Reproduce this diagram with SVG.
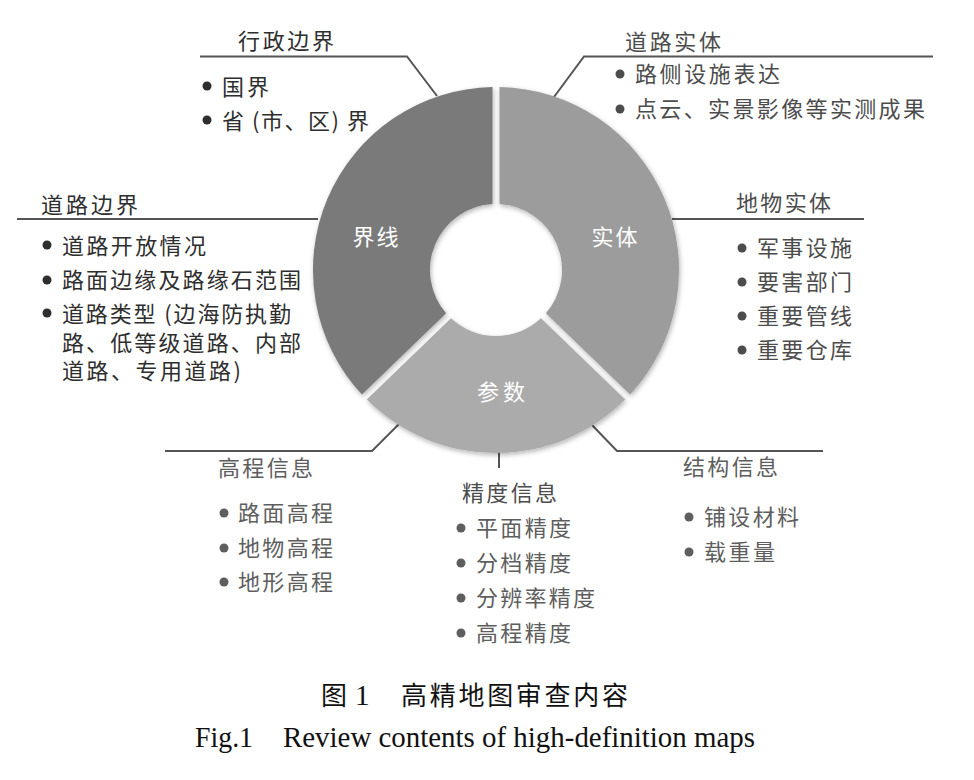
<svg xmlns="http://www.w3.org/2000/svg" width="974" height="780" viewBox="0 0 974 780">
<style>
  text { font-family: "Noto Sans CJK SC", "Liberation Sans", sans-serif; font-size: 22px; }
  .dark { fill: #2e2e2e; }
  .mid { fill: #4c4c4c; }
  .light { fill: #5e5e5e; }
  .seg-label { fill: #ffffff; font-size: 22px; text-anchor: middle; }
  .cap { fill: #111111; font-family: "Liberation Serif", "Noto Sans CJK SC", serif; font-size: 29px; }
  .capcn { fill: #111111; font-family: "Noto Sans CJK SC", sans-serif; font-size: 26px; }
  .conn { fill: none; stroke: #555555; stroke-width: 2; stroke-linejoin: miter; }
</style>
<defs>
  <filter id="shadow" x="-20%" y="-20%" width="140%" height="140%">
    <feDropShadow dx="1" dy="2" stdDeviation="2.5" flood-color="#000000" flood-opacity="0.3"/>
  </filter>
</defs>
<rect x="0" y="0" width="974" height="780" fill="#ffffff"/>

<g id="connectors">
  <polyline class="conn" points="200,56.5 407,56.5 437,96"/>
  <polyline class="conn" points="933,56.5 584,56.5 554,97"/>
  <polyline class="conn" points="17,219 318,219"/>
  <polyline class="conn" points="864,219 672,219"/>
  <polyline class="conn" points="165,451 372,451 401,422"/>
  <polyline class="conn" points="499,452 499,468"/>
  <polyline class="conn" points="823,451 617,451 592,425"/>
</g>

<g id="donut">
  <g id="seg-jiexian">
    <path d="M 361.95 394.59 A 183 183 0 0 1 492.49 87.03 L 492.50 204.09 A 66 66 0 0 0 446.14 313.26 Z" fill="#7a7a7a" filter="url(#shadow)"/>
    <text class="seg-label" x="375.5" y="245" textLength="46">界线</text>
  </g>
  <g id="seg-shiti">
    <path d="M 499.51 87.03 A 183 183 0 0 1 630.05 394.59 L 545.86 313.26 A 66 66 0 0 0 499.50 204.09 Z" fill="#9c9c9c" filter="url(#shadow)"/>
    <text class="seg-label" x="614.5" y="245" textLength="46">实体</text>
  </g>
  <g id="seg-canshu">
    <path d="M 625.18 399.62 A 183 183 0 0 1 366.82 399.62 L 451.02 318.30 A 66 66 0 0 0 540.98 318.30 Z" fill="#ababab" filter="url(#shadow)"/>
    <text class="seg-label" x="501" y="400" textLength="48">参数</text>
  </g>
</g>

<g id="node-xingzheng">
  <text class="dark" x="238" y="49" textLength="96">行政边界</text>
  <circle class="dark" cx="207" cy="86" r="4.5"/>
  <text class="dark" x="222" y="95" textLength="47">国界</text>
  <circle class="dark" cx="207" cy="120" r="4.5"/>
  <text class="dark" x="222" y="129" textLength="147">省 (市、区) 界</text>
</g>

<g id="node-daolushiti">
  <text class="mid" x="625" y="50" textLength="96">道路实体</text>
  <circle class="mid" cx="620" cy="74" r="4.5"/>
  <text class="mid" x="635" y="82" textLength="145">路侧设施表达</text>
  <circle class="mid" cx="620" cy="109" r="4.5"/>
  <text class="mid" x="635" y="117" textLength="290">点云、实景影像等实测成果</text>
</g>

<g id="node-daolubianjie">
  <text class="dark" x="41" y="213" textLength="97">道路边界</text>
  <circle class="dark" cx="47" cy="245" r="4.5"/>
  <text class="dark" x="62" y="254" textLength="144">道路开放情况</text>
  <circle class="dark" cx="47" cy="280" r="4.5"/>
  <text class="dark" x="62" y="288" textLength="239">路面边缘及路缘石范围</text>
  <circle class="dark" cx="47" cy="313" r="4.5"/>
  <text class="dark" x="62" y="322" textLength="229">道路类型 (边海防执勤</text>
  <text class="dark" x="62" y="351" textLength="239">路、低等级道路、内部</text>
  <text class="dark" x="62" y="379" textLength="179">道路、专用道路)</text>
</g>

<g id="node-diwushiti">
  <text class="mid" x="736" y="211" textLength="95">地物实体</text>
  <circle class="mid" cx="742" cy="248" r="4.5"/>
  <text class="mid" x="757" y="256" textLength="95">军事设施</text>
  <circle class="mid" cx="742" cy="282" r="4.5"/>
  <text class="mid" x="757" y="290" textLength="95">要害部门</text>
  <circle class="mid" cx="742" cy="316" r="4.5"/>
  <text class="mid" x="757" y="324" textLength="95">重要管线</text>
  <circle class="mid" cx="742" cy="350" r="4.5"/>
  <text class="mid" x="757" y="358" textLength="95">重要仓库</text>
</g>

<g id="node-gaocheng">
  <text class="light" x="218" y="476" textLength="95">高程信息</text>
  <circle class="light" cx="224" cy="513" r="4.5"/>
  <text class="light" x="238" y="521" textLength="95">路面高程</text>
  <circle class="light" cx="224" cy="548" r="4.5"/>
  <text class="light" x="238" y="556" textLength="95">地物高程</text>
  <circle class="light" cx="224" cy="582" r="4.5"/>
  <text class="light" x="238" y="590" textLength="95">地形高程</text>
</g>

<g id="node-jingdu">
  <text class="mid" x="462" y="501" textLength="95">精度信息</text>
  <circle class="light" cx="461" cy="528" r="4.5"/>
  <text class="light" x="476" y="536" textLength="95">平面精度</text>
  <circle class="light" cx="461" cy="563" r="4.5"/>
  <text class="light" x="476" y="571" textLength="95">分档精度</text>
  <circle class="light" cx="461" cy="598" r="4.5"/>
  <text class="light" x="476" y="606" textLength="119">分辨率精度</text>
  <circle class="light" cx="461" cy="633" r="4.5"/>
  <text class="light" x="476" y="641" textLength="95">高程精度</text>
</g>

<g id="node-jiegou">
  <text class="light" x="683" y="475" textLength="95">结构信息</text>
  <circle class="light" cx="689" cy="517" r="4.5"/>
  <text class="light" x="704" y="525" textLength="95">铺设材料</text>
  <circle class="light" cx="689" cy="552" r="4.5"/>
  <text class="light" x="704" y="560" textLength="71">载重量</text>
</g>

<g id="caption">
  <text class="capcn" x="321" y="705">图</text>
  <text class="cap" x="355" y="705">1</text>
  <text class="capcn" x="401" y="705" textLength="227">高精地图审查内容</text>
  <text class="cap" x="195" y="747" textLength="58" lengthAdjust="spacingAndGlyphs">Fig.1</text>
  <text class="cap" x="283" y="747" textLength="472" lengthAdjust="spacingAndGlyphs">Review contents of high-definition maps</text>
</g>
</svg>
